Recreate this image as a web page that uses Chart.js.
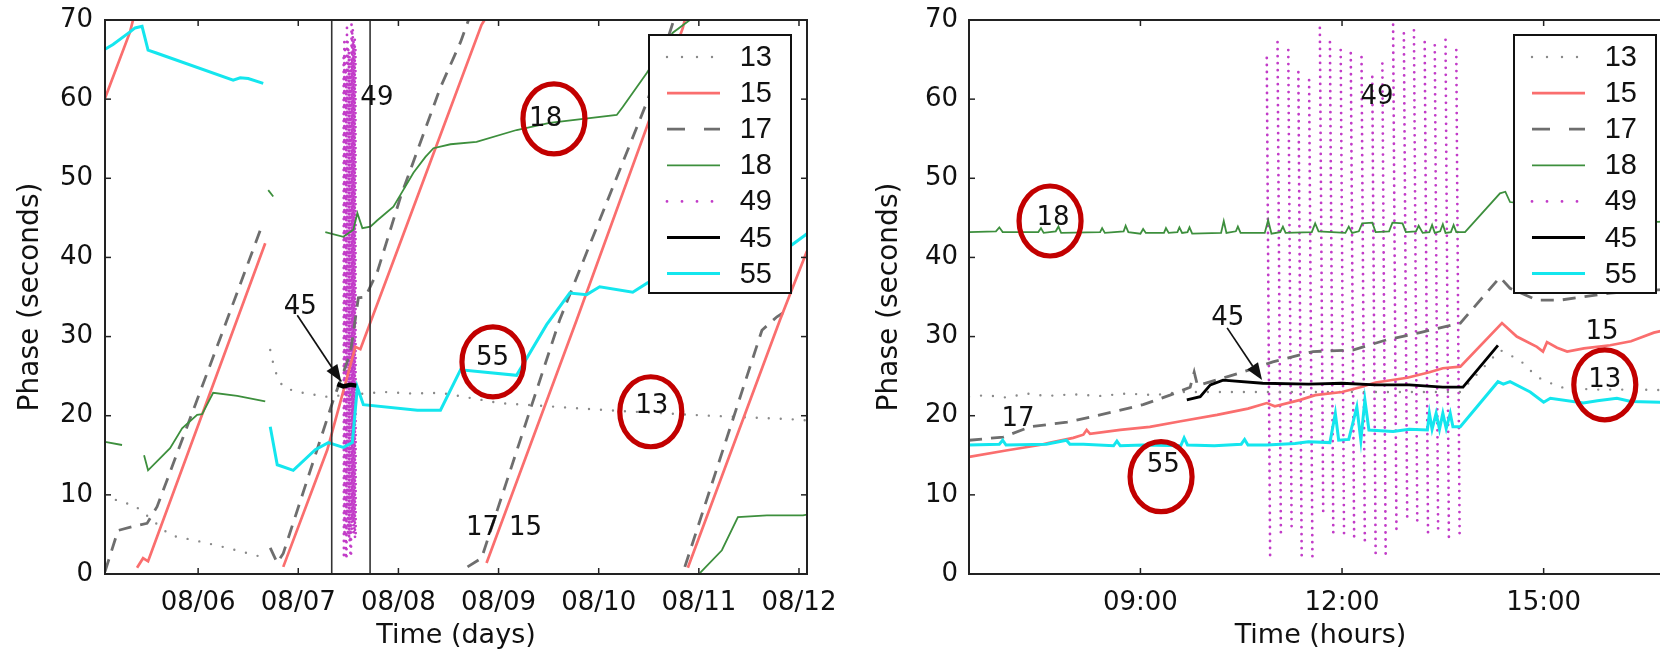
<!DOCTYPE html>
<html>
<head>
<meta charset="utf-8">
<script src="https://cdn.jsdelivr.net/npm/chart.js@4.4.1/dist/chart.umd.min.js"></script>
<style>
html, body { margin: 0; padding: 0; background: #fff; overflow: hidden; width: 1660px; height: 653px; }
.panel { position: absolute; top: 0; height: 653px; }
#leftWrap { left: 0; width: 845px; }
#rightWrap { left: 840px; width: 855px; }
</style>
</head>
<body>
<div id="leftWrap" class="panel"><canvas id="leftChart"></canvas></div>
<div id="rightWrap" class="panel"><canvas id="rightChart"></canvas></div>
<script>
// ── Series names (legend order) ──
const seriesNames = ['13', '15', '17', '18', '49', '45', '55'];

// ── Left panel: x = day of August, y = phase (s); null = gap ──
const leftTickDays = [6, 7, 8, 9, 10, 11, 12];
const leftTickLabels = ['08/06', '08/07', '08/08', '08/09', '08/10', '08/11', '08/12'];

const left13 = [[5.07, 10.0], [5.24, 9.0], [5.35, 8.8], [5.46, 7.7], [5.72, 4.9], [6.02, 4.1], [6.29, 3.3], [6.59, 2.3], [6.70, 2.0], null,
    [6.72, 28.3], [6.75, 26.6], [6.79, 24.9], [6.85, 23.6], [6.99, 23.0], [7.14, 22.7], [7.27, 22.4], [7.85, 23.0], [8.15, 22.8],
    [8.42, 22.9], [9.01, 21.6], [10.08, 20.7], [10.94, 20.1], [12.01, 19.5], [12.08, 19.4]];
const left15 = [[5.07, 60.1], [5.32, 68.5], [5.35, 70], null,
    [5.39, 0.8], [5.45, 2.0], [5.50, 1.6], [6.67, 41.8], null,
    [6.85, 0.9], [7.29, 15.7], [7.57, 28.7], [7.62, 28.4], [7.99, 40.9], [8.83, 69.4], [8.86, 70], null,
    [8.88, 1.4], [9.78, 32.1], [10.84, 69.0], [10.86, 70], null,
    [10.89, 0.8], [11.81, 32.1], [12.08, 40.8]];
const left17 = [[5.07, 0.3], [5.20, 5.5], [5.35, 6.0], [5.49, 6.4], [5.59, 8.5], [6.25, 30.8], [6.64, 44.1], null,
    [6.72, 3.3], [6.79, 1.4], [6.85, 2.6], [7.35, 22.0], [7.52, 27.9], [7.60, 34.9], [7.67, 35.0], [7.79, 38.2], [8.02, 47.6],
    [8.42, 61.5], [8.62, 67.2], [8.70, 70], null,
    [8.69, 0.9], [8.83, 2.0], [9.61, 32.1], [10.49, 59.9], [10.75, 70], null,
    [10.86, 0.9], [11.63, 30.8], [11.78, 32.5], [11.84, 33.0]];
const left18 = [[5.07, 16.7], [5.24, 16.3], null,
    [5.46, 15.0], [5.50, 13.1], [5.72, 15.9], [5.84, 18.4], [5.99, 20.1], [6.04, 20.2], [6.15, 22.9], [6.39, 22.5], [6.67, 21.8], null,
    [6.70, 48.5], [6.75, 47.7], null,
    [7.27, 43.2], [7.45, 42.6], [7.55, 43.5], [7.59, 45.6], [7.64, 43.7], [7.72, 43.9], [7.79, 44.7], [7.95, 46.4], [8.02, 47.9],
    [8.15, 50.7], [8.27, 52.7], [8.35, 53.8], [8.52, 54.3], [8.78, 54.6], [9.18, 56.1], [9.51, 57.0], [10.18, 58.0], [10.24, 59.0],
    [10.48, 63.3], [10.74, 68.4], [10.91, 70], null,
    [11.01, 0.1], [11.23, 3.0], [11.39, 7.2], [11.68, 7.4], [12.04, 7.4], [12.08, 7.5]];
const left45 = [[7.39, 24.0], [7.45, 23.7], [7.52, 23.9], [7.58, 23.8]];
const left55 = [[5.07, 66.3], [5.15, 66.9], [5.32, 68.5], [5.37, 69.0], [5.44, 69.2], [5.50, 66.2], [5.59, 65.8], [6.35, 62.4],
    [6.42, 62.7], [6.50, 62.6], [6.65, 62.0], null,
    [6.72, 18.6], [6.79, 13.8], [6.95, 13.1], [7.17, 15.7], [7.30, 16.6], [7.45, 16.0], [7.54, 16.6], [7.59, 23.6], [7.65, 21.4],
    [8.19, 20.7], [8.42, 20.7], [8.62, 25.8], [9.18, 25.1], [9.48, 31.5], [9.71, 35.5], [9.88, 35.3], [10.01, 36.3], [10.34, 35.6],
    [10.49, 36.8], [11.93, 41.6], [12.06, 42.8], [12.08, 43.0]];

// ── Right panel (zoom on 08/07): x = hour of day ──
const rightTickHours = [9, 12, 15];
const rightTickLabels = ['09:00', '12:00', '15:00'];

const right13 = [[6.45, 22.4], [6.7, 22.6], [7.0, 22.3], [7.3, 22.8], [7.6, 22.5], [8.0, 22.7], [8.4, 22.5], [8.8, 22.8], [9.2, 22.6],
    [9.6, 23.0], [13.76, 23.0], [14.35, 28.3], [14.65, 27.0], [14.90, 24.9], [15.24, 23.6], [15.74, 23.3], [16.48, 23.3], [16.91, 23.2]];
const right15 = [[6.45, 14.8], [7.0, 15.6], [7.5, 16.3], [7.66, 16.6], [8.0, 17.2], [8.15, 17.6], [8.2, 18.2], [8.25, 17.7], [8.7, 18.2],
    [9.14, 18.6], [9.6, 19.3], [10.14, 20.1], [10.6, 20.9], [10.88, 21.6], [11.0, 21.2], [11.38, 22.0], [11.6, 22.6], [12.0, 23.0],
    [12.27, 23.6], [12.5, 24.2], [12.97, 24.8], [13.3, 25.5], [13.5, 26.0], [13.76, 26.2], [14.38, 31.7], [14.6, 30.0], [14.9, 28.7],
    [14.99, 28.1], [15.05, 29.3], [15.2, 28.6], [15.35, 28.1], [15.6, 28.5], [15.99, 28.9], [16.3, 29.4], [16.64, 30.5], [16.91, 31.0]];
const right17 = [[6.45, 16.9], [6.96, 17.3], [7.36, 18.6], [7.91, 19.2], [8.40, 20.1], [9.04, 21.4], [9.44, 22.6], [9.74, 23.6],
    [9.80, 25.5], [9.85, 23.8], [10.48, 25.4], [10.97, 26.8], [11.57, 28.1], [12.16, 28.3], [12.67, 29.6], [13.16, 30.5],
    [13.76, 31.7], [14.35, 37.5], [14.50, 36.1], [14.90, 34.6], [15.24, 34.6], [15.99, 35.5], [16.70, 35.9], [16.91, 36.0]];
const right18 = [[6.45, 43.2], [6.85, 43.3], [6.90, 43.8], [6.95, 43.2], [7.48, 43.2], [7.52, 43.7], [7.56, 43.1], [7.74, 43.3],
    [7.78, 43.9], [7.82, 43.1], [8.40, 43.2], [8.43, 43.7], [8.47, 43.1], [8.75, 43.3], [8.78, 44.0], [8.82, 43.2], [9.00, 43.0],
    [9.04, 43.6], [9.08, 43.1], [9.35, 43.1], [9.38, 43.7], [9.42, 43.1], [9.55, 43.2], [9.58, 43.8], [9.62, 43.1], [9.70, 43.2],
    [9.73, 43.8], [9.77, 43.0], [10.20, 43.1], [10.24, 44.6], [10.28, 43.1], [10.42, 43.3], [10.45, 43.9], [10.49, 43.1],
    [10.85, 43.1], [10.90, 44.7], [10.95, 43.0], [11.08, 43.2], [11.12, 43.9], [11.16, 43.1], [11.55, 43.2], [11.60, 44.3],
    [11.65, 43.3], [12.05, 43.1], [12.10, 43.9], [12.15, 43.1], [12.25, 43.3], [12.30, 44.3], [12.45, 44.4], [12.50, 43.2],
    [12.70, 43.3], [12.75, 44.4], [12.90, 44.3], [12.95, 43.2], [13.10, 43.3], [13.14, 44.0], [13.20, 43.1], [13.30, 43.2],
    [13.34, 44.1], [13.38, 43.1], [13.46, 43.3], [13.50, 44.2], [13.54, 43.1], [13.62, 43.2], [13.66, 44.1], [13.70, 43.2],
    [13.83, 43.2], [14.35, 48.1], [14.43, 48.3], [14.50, 47.0], [16.70, 44.5], [16.91, 44.6]];
const right45 = [[9.69, 22.0], [9.89, 22.4], [10.04, 23.9], [10.23, 24.5], [10.82, 24.1], [11.5, 24.0], [12.0, 24.1], [12.5, 23.9],
    [13.0, 23.9], [13.5, 23.6], [13.80, 23.6], [14.32, 28.9]];
const right55 = [[6.45, 16.3], [6.9, 16.4], [6.95, 16.9], [7.0, 16.3], [7.6, 16.4], [7.9, 16.9], [7.95, 16.4], [8.15, 16.4],
    [8.6, 16.2], [8.65, 16.8], [8.7, 16.2], [9.04, 16.3], [9.6, 16.2], [9.65, 17.2], [9.70, 16.3], [10.1, 16.2], [10.5, 16.4],
    [10.55, 17.0], [10.6, 16.3], [10.88, 16.3], [11.3, 16.5], [11.5, 16.7], [11.82, 16.6], [11.90, 20.3], [11.95, 16.9],
    [12.10, 17.0], [12.22, 21.1], [12.28, 16.9], [12.34, 22.0], [12.40, 18.2], [12.76, 18.0], [13.0, 18.3], [13.27, 18.2],
    [13.30, 20.3], [13.34, 18.3], [13.40, 20.3], [13.45, 18.3], [13.5, 20.3], [13.55, 18.4], [13.61, 20.3], [13.65, 18.6],
    [13.76, 18.6], [14.32, 24.3], [14.4, 24.0], [14.5, 24.3], [14.8, 23.0], [15.0, 21.7], [15.1, 22.2], [15.59, 21.6],
    [15.8, 21.9], [16.09, 22.2], [16.3, 21.8], [16.73, 21.7], [16.91, 21.8]];

// Station 49 wraps quickly: one dotted column per wrap (start/end hour, top/bottom phase)
const r49Start = [10.88, 11.04, 11.20, 11.35, 11.51, 11.67, 11.82, 11.98, 12.13, 12.29, 12.45, 12.60, 12.76, 12.92, 13.07, 13.23, 13.38, 13.54, 13.70];
const r49End = [10.93, 11.09, 11.25, 11.40, 11.56, 11.72, 11.87, 12.03, 12.18, 12.34, 12.50, 12.65, 12.81, 12.97, 13.12, 13.28, 13.43, 13.59, 13.75];
const r49Top = [65.2, 67.2, 66.2, 63.4, 62.4, 69.0, 67.2, 66.2, 65.8, 65.3, 62.8, 64.5, 69.4, 68.3, 68.7, 67.2, 66.8, 67.5, 66.2];
const r49Bottom = [2.0, 5.2, 5.2, 1.8, 1.4, 7.7, 5.2, 4.7, 4.7, 3.4, 2.6, 1.8, 5.2, 6.8, 6.0, 4.5, 5.2, 4.7, 4.5];

// ── Styles ──
const seriesStyle = {
    '13': { color: '#8a8a8a', width: 2.4, dash: [0, 12], cap: 'round', legendDash: [0, 15], order: 5 },
    '15': { color: '#fa6e6e', width: 2.7, dash: [], cap: 'butt', order: 3 },
    '17': { color: '#6e6e6e', width: 2.8, dash: [13, 9], cap: 'butt', legendDash: [18, 19], order: 4 },
    '18': { color: '#3d8f3d', width: 1.8, dash: [], cap: 'butt', order: 2 },
    '49': { color: '#c23cc8', width: 2.8, dash: [0, 7], cap: 'round', legendDash: [0, 15], order: 6 },
    '45': { color: '#000000', width: 2.8, dash: [], cap: 'butt', order: 0 },
    '55': { color: '#14e6ee', width: 3, dash: [], cap: 'butt', order: 1 },
};

Chart.defaults.font.family = "'DejaVu Sans', sans-serif";
Chart.defaults.color = '#111';

function toPts(arr) {
    let lastX = 0;
    return arr.map(p => {
        if (!p) return { x: lastX, y: null };
        lastX = p[0];
        return { x: p[0], y: p[1] };
    });
}

function columns49(xConv) {
    const pts = [];
    r49Start.forEach((h, i) => {
        pts.push({ x: xConv(h), y: r49Top[i] });
        pts.push({ x: xConv(r49End[i]), y: r49Bottom[i] });
        pts.push({ x: xConv(r49End[i]), y: null });
    });
    return pts;
}

function makeDataset(name, pts, widthOverride) {
    const st = seriesStyle[name];
    return {
        label: name,
        data: pts,
        borderColor: st.color,
        backgroundColor: st.color,
        borderWidth: widthOverride || st.width,
        borderDash: st.dash,
        borderCapStyle: st.cap,
        pointRadius: 0,
        tension: 0,
        fill: false,
        order: st.order,
    };
}

function strokeLine(ctx, x1, y1, x2, y2) {
    ctx.beginPath(); ctx.moveTo(x1, y1); ctx.lineTo(x2, y2); ctx.stroke();
}

// frame, inward ticks, annotations and legend box drawn over the data
function overlay(notes) {
    return {
        id: 'overlay',
        afterDatasetsDraw(chart) {
            const { ctx, chartArea: a, scales: { x, y } } = chart;
            ctx.save();
            ctx.setLineDash([]);

            ctx.strokeStyle = '#333';
            ctx.lineWidth = 1.6;
            (notes.vlines || []).forEach(v => {
                const px = x.getPixelForValue(v);
                strokeLine(ctx, px, a.top, px, a.bottom);
            });

            ctx.strokeStyle = '#222';
            ctx.lineWidth = 2;
            ctx.strokeRect(a.left, a.top, a.width, a.height);
            ctx.lineWidth = 1.5;
            x.ticks.forEach(t => {
                const px = x.getPixelForValue(t.value);
                strokeLine(ctx, px, a.bottom, px, a.bottom - 6);
                strokeLine(ctx, px, a.top, px, a.top + 6);
            });
            y.ticks.forEach(t => {
                const py = y.getPixelForValue(t.value);
                strokeLine(ctx, a.left, py, a.left + 6, py);
                strokeLine(ctx, a.right, py, a.right - 6, py);
            });

            // arrows
            ctx.strokeStyle = '#111';
            ctx.fillStyle = '#111';
            ctx.lineWidth = 1.7;
            (notes.arrows || []).forEach(ar => {
                const x1 = x.getPixelForValue(ar.from[0]), y1 = y.getPixelForValue(ar.from[1]);
                const x2 = x.getPixelForValue(ar.to[0]), y2 = y.getPixelForValue(ar.to[1]);
                const ang = Math.atan2(y2 - y1, x2 - x1), len = 17, half = 6.5;
                const bx = x2 - Math.cos(ang) * len, by = y2 - Math.sin(ang) * len;
                strokeLine(ctx, x1, y1, bx, by);
                ctx.beginPath();
                ctx.moveTo(x2, y2);
                ctx.lineTo(bx + Math.sin(ang) * half, by - Math.cos(ang) * half);
                ctx.lineTo(bx - Math.sin(ang) * half, by + Math.cos(ang) * half);
                ctx.closePath();
                ctx.fill();
            });

            // labels
            ctx.font = "26px 'DejaVu Sans'";
            ctx.textBaseline = 'middle';
            (notes.texts || []).forEach(t => {
                ctx.textAlign = t.align || 'center';
                ctx.fillText(t.text, x.getPixelForValue(t.x), y.getPixelForValue(t.y));
            });

            // red circles
            ctx.strokeStyle = '#c20000';
            ctx.lineWidth = 5.2;
            (notes.circles || []).forEach(c => {
                ctx.beginPath();
                ctx.ellipse(x.getPixelForValue(c.x), y.getPixelForValue(c.y), 31, 35, 0, 0, Math.PI * 2);
                ctx.stroke();
            });

            // legend
            const w = 142, h = 258;
            const bx = a.right - 16 - w, by = a.top + 15;
            ctx.fillStyle = '#fff';
            ctx.fillRect(bx, by, w, h);
            ctx.strokeStyle = '#111';
            ctx.lineWidth = 2;
            ctx.strokeRect(bx, by, w, h);
            ctx.font = "29px 'Liberation Sans'";
            ctx.textAlign = 'right';
            seriesNames.forEach((name, i) => {
                const st = seriesStyle[name];
                const cy = by + 22 + i * 36.1;
                ctx.strokeStyle = st.color;
                ctx.lineWidth = st.width;
                ctx.lineCap = st.cap;
                ctx.setLineDash(st.legendDash || []);
                strokeLine(ctx, bx + 18, cy, bx + 71, cy);
                ctx.setLineDash([]);
                ctx.lineCap = 'butt';
                ctx.fillStyle = '#111';
                ctx.fillText(name, bx + w - 19, cy + 1);
            });
            ctx.restore();
        }
    };
}

function makeChart(canvasId, cfg) {
    return new Chart(document.getElementById(canvasId), {
        type: 'line',
        data: { datasets: cfg.datasets },
        options: {
            responsive: true,
            maintainAspectRatio: false,
            animation: false,
            devicePixelRatio: 1,
            layout: { padding: { top: 20, right: cfg.padRight, left: 0, bottom: 0 } },
            plugins: { legend: { display: false }, tooltip: { enabled: false } },
            scales: {
                x: {
                    type: 'linear',
                    min: cfg.xMin,
                    max: cfg.xMax,
                    bounds: 'data',
                    afterBuildTicks: s => { s.ticks = cfg.tickVals.map(v => ({ value: v })); },
                    afterFit: s => { s.height = 79; s.paddingLeft = 0; s.paddingRight = 0; },
                    grid: { display: false, drawTicks: false },
                    border: { display: false },
                    ticks: {
                        autoSkip: false,
                        maxRotation: 0,
                        padding: 14,
                        font: { size: 26 },
                        color: '#111',
                        callback: (v, i) => cfg.tickLabels[i],
                    },
                    title: { display: true, text: cfg.xTitle, font: { size: 27 }, color: '#111', padding: { top: 0, bottom: 1 } },
                },
                y: {
                    min: 0,
                    max: 70,
                    afterFit: s => { s.width = cfg.yWidth; s.paddingTop = 0; s.paddingBottom = 0; },
                    grid: { display: false, drawTicks: false },
                    border: { display: false },
                    ticks: { stepSize: 10, padding: cfg.yTickPad, font: { size: 26 }, color: '#111' },
                    title: { display: true, text: 'Phase (seconds)', font: { size: 28 }, color: '#111', padding: { top: cfg.yTitlePad, bottom: 0 } },
                },
            },
        },
        plugins: [overlay(cfg.notes)],
    });
}

const dayOf = h => 7 + h / 24;

makeChart('leftChart', {
    xMin: 5.07, xMax: 12.08, padRight: 38,
    tickVals: leftTickDays, tickLabels: leftTickLabels,
    xTitle: 'Time (days)', yWidth: 105, yTickPad: 12, yTitlePad: 14,
    datasets: [
        makeDataset('13', toPts(left13)),
        makeDataset('15', toPts(left15)),
        makeDataset('17', toPts(left17)),
        makeDataset('18', toPts(left18)),
        makeDataset('49', columns49(dayOf)),
        makeDataset('45', toPts(left45), 4.5),
        makeDataset('55', toPts(left55)),
    ],
    notes: {
        vlines: [7.334, 7.717],
        texts: [
            { text: '49', x: 7.62, y: 60.1, align: 'left' },
            { text: '45', x: 7.02, y: 33.7 },
            { text: '17', x: 8.84, y: 5.8 },
            { text: '15', x: 9.27, y: 5.8 },
            { text: '18', x: 9.47, y: 57.5 },
            { text: '55', x: 8.94, y: 27.2 },
            { text: '13', x: 10.53, y: 21.2 },
        ],
        circles: [{ x: 9.553, y: 57.5 }, { x: 8.944, y: 26.8 }, { x: 10.52, y: 20.5 }],
        arrows: [{ from: [6.99, 32.7], to: [7.43, 24.3] }],
    },
});

makeChart('rightChart', {
    xMin: 6.449, xMax: 16.91, padRight: 23,
    tickVals: rightTickHours, tickLabels: rightTickLabels,
    xTitle: 'Time (hours)', yWidth: 129, yTickPad: 11, yTitlePad: 33,
    datasets: [
        makeDataset('13', toPts(right13)),
        makeDataset('15', toPts(right15)),
        makeDataset('17', toPts(right17)),
        makeDataset('18', toPts(right18)),
        makeDataset('49', columns49(h => h)),
        makeDataset('45', toPts(right45)),
        makeDataset('55', toPts(right55)),
    ],
    notes: {
        texts: [
            { text: '49', x: 12.52, y: 60.2 },
            { text: '45', x: 10.30, y: 32.3 },
            { text: '17', x: 7.18, y: 19.6 },
            { text: '15', x: 15.87, y: 30.6 },
            { text: '18', x: 7.70, y: 44.9 },
            { text: '55', x: 9.34, y: 13.8 },
            { text: '13', x: 15.91, y: 24.5 },
        ],
        circles: [{ x: 7.655, y: 44.6 }, { x: 9.307, y: 12.3 }, { x: 15.91, y: 23.9 }],
        arrows: [{ from: [10.29, 31.1], to: [10.81, 24.5] }],
    },
});
</script>
</body>
</html>
